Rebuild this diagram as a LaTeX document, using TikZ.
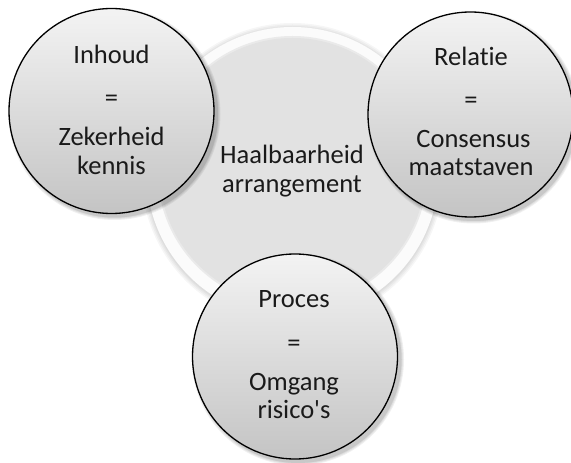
\documentclass[tikz,border=0pt]{standalone}
\usepackage{fontspec}
\setmainfont{Carlito}[Ligatures={TeXOff,CommonOff}]
\definecolor{textc}{HTML}{1A1A1A}
\definecolor{topc}{HTML}{F3F3F3}
\definecolor{botc}{HTML}{C4C4C4}
\definecolor{ringc}{HTML}{FBFBFB}
\definecolor{discc}{HTML}{E2E2E2}
\definecolor{discedge}{HTML}{EAEAEA}
\begin{document}
\begin{tikzpicture}[x=1bp,y=-1bp,
  txt/.style={font=\fontsize{26.5bp}{29bp}\selectfont, text=textc, anchor=base, inner sep=0pt},
  bubble/.style={circle, draw=black, line width=1.3bp, top color=topc, bottom color=botc, minimum size=205bp, inner sep=0pt},
  softshadow/.style={fill=black, opacity=0.06},
]
\useasboundingbox (0,0) rectangle (571,463);
% central circle: halo, ring, disc
\foreach \r in {151,149.5,148,146.8}
  \fill[black, opacity=0.035] (292.5,174) circle[radius=\r];
\fill[ringc] (292.5,173) circle[radius=146];
\fill[discedge] (292.5,171) circle[radius=135];
\fill[discc] (292.5,171) circle[radius=133];
% shadows of the three bubbles
\foreach \cx/\cy in {111.5/111, 470.5/114.5, 295/356.5}{
  \foreach \r in {106,105,104,103.5}
    \fill[softshadow] (\cx+3,\cy+3) circle[radius=\r];
}
% bubbles
\node[bubble] (inhoud) at (111.5,111) {};
\node[bubble] (relatie) at (470.5,114.5) {};
\node[bubble] (proces) at (295,356.5) {};
% centre text
\node[txt] (c1) at (292,164) {Haalbaarheid};
\node[txt] (c2) at (292,193) {arrangement};
% left
\node[txt] (l1) at (111.5,64) {Inhoud};
\node[txt] (l2) at (111.5,107) {=};
\node[txt] (l3) at (111.5,146) {Zekerheid};
\node[txt] (l4) at (111.5,175) {kennis};
% right
\node[txt] (r1) at (471,66) {Relatie};
\node[txt] (r2) at (471,109) {=};
\node[txt] (r3) at (473.5,148) {Consensus};
\node[txt] (r4) at (471,176) {maatstaven};
% bottom
\node[txt] (b1) at (294,307) {Proces};
\node[txt] (b2) at (294,351) {=};
\node[txt] (b3) at (294,390) {Omgang};
\node[txt] (b4) at (294,418) {risico's};
\end{tikzpicture}
\end{document}
